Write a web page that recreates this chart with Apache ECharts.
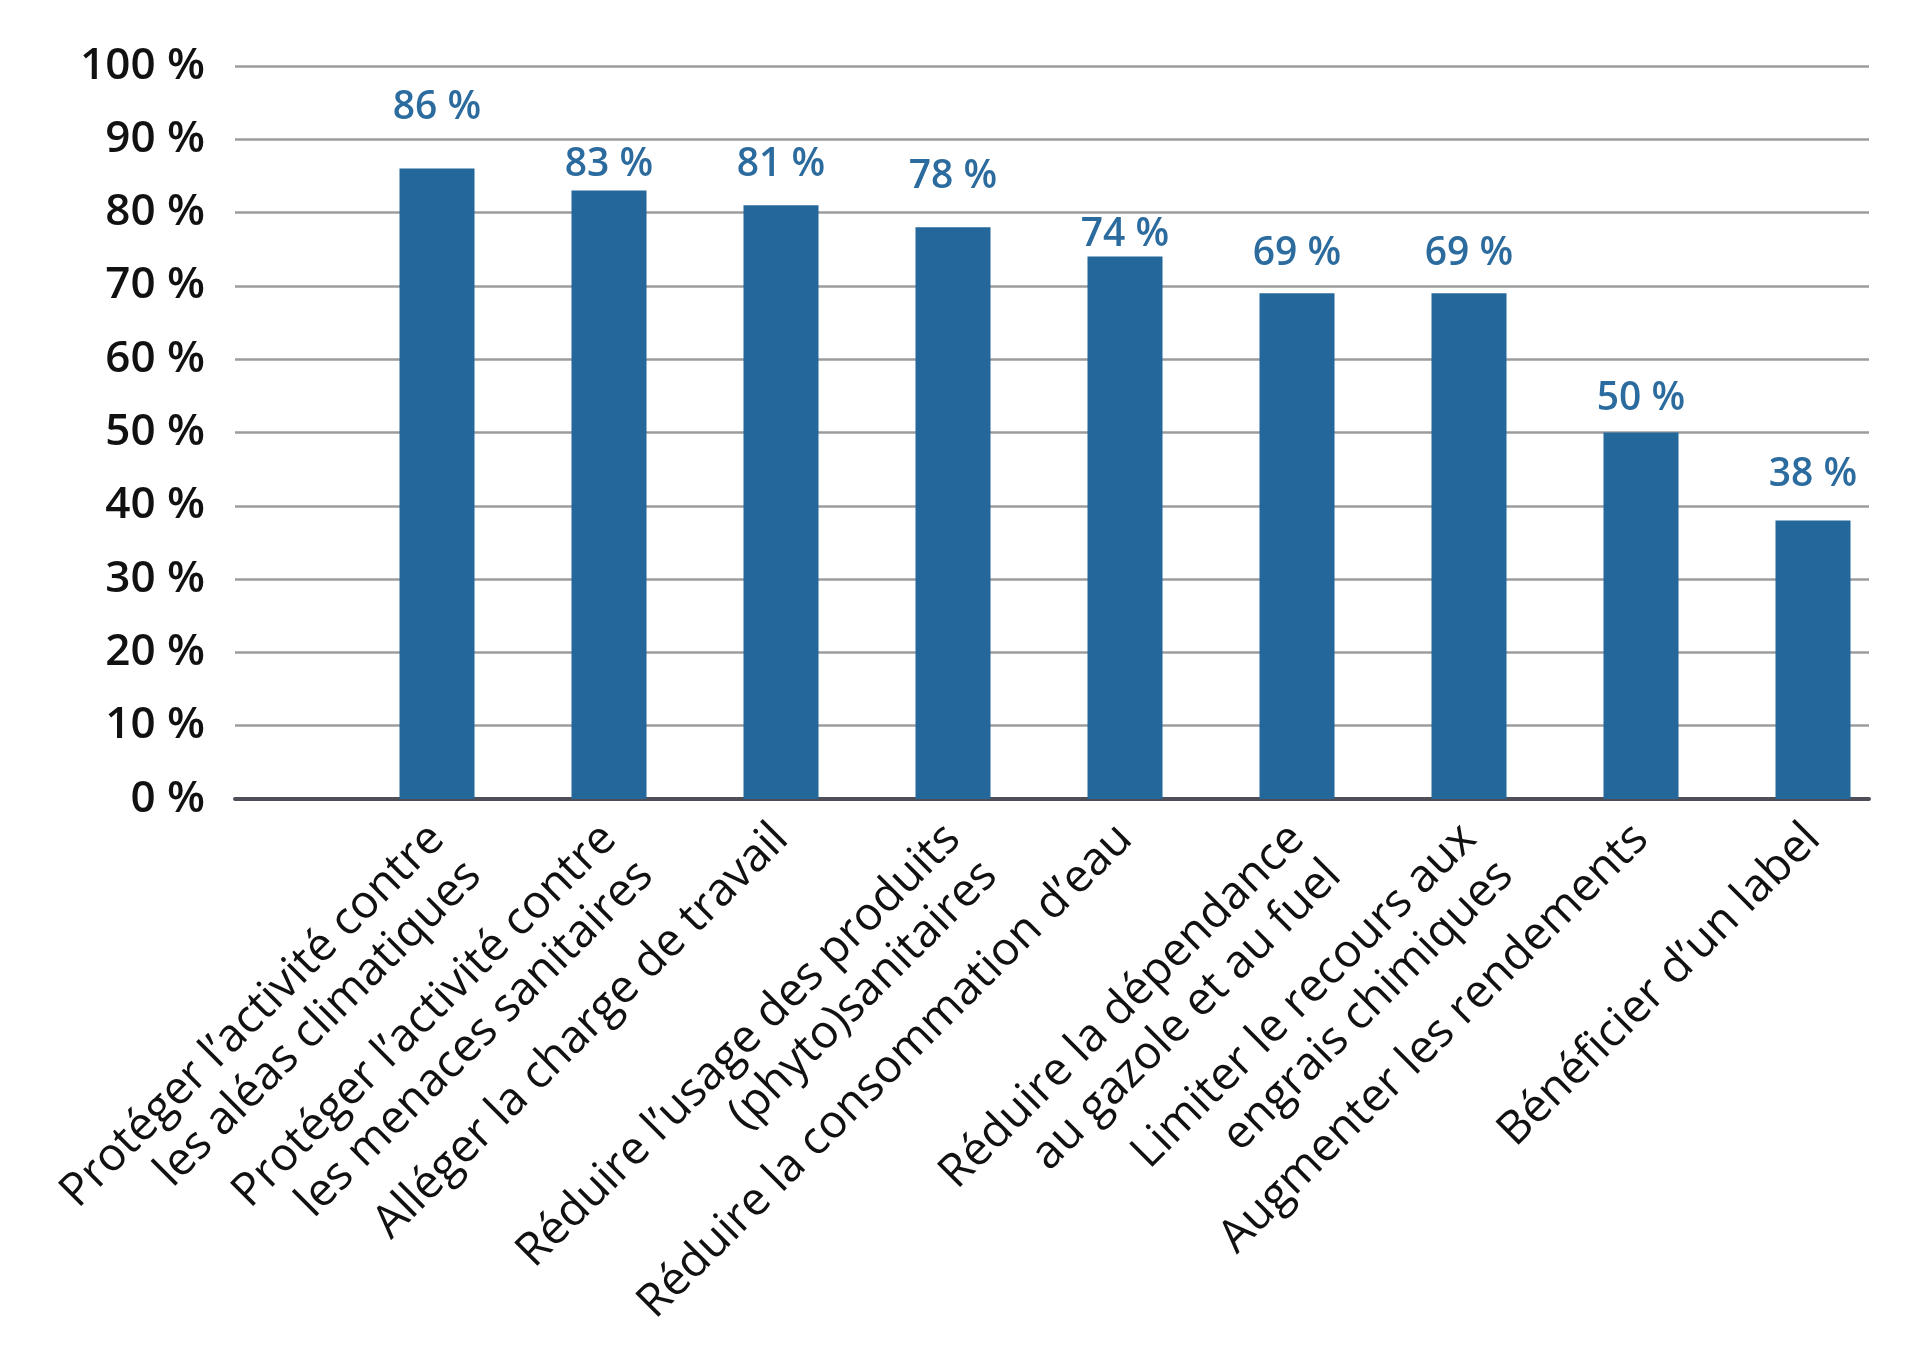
<!DOCTYPE html>
<html>
<head>
<meta charset="utf-8">
<script src="https://cdn.jsdelivr.net/npm/echarts@6/dist/echarts.min.js"></script>
<style>
  html, body { margin: 0; padding: 0; background: #fff; }
  #chart { width: 1912px; height: 1348px; }
</style>
</head>
<body>
<div id="chart"></div>
<script>
// catégories (axe horizontal)
const categories = [
  "Protéger l\u2019activité contre\nles aléas climatiques",
  "Protéger l\u2019activité contre\nles menaces sanitaires",
  "Alléger la charge de travail",
  "Réduire l\u2019usage des produits\n(phyto)sanitaires",
  "Réduire la consommation d\u2019eau",
  "Réduire la dépendance\nau gazole et au fuel",
  "Limiter le recours aux\nengrais chimiques",
  "Augmenter les rendements",
  "Bénéficier d\u2019un label"
];
// parts en %
const values = [86, 83, 81, 78, 74, 69, 69, 50, 38];
// graduations de l'axe vertical
const yTicks = [0, 10, 20, 30, 40, 50, 60, 70, 80, 90, 100];
// écart étiquette / haut de barre (px), comme sur l'original
const labelRaise = [41, 6, 20, 30, 2, 19, 19, 14, 26];

const barColor = "#23679b";
const labelColor = "#2c6b9e";
const font = "'Open Sans', 'Noto Sans', sans-serif";

const chart = echarts.init(document.getElementById("chart"));

const option = {
  backgroundColor: "#fff",
  animation: false,
  grid: [
    // grille de fond : graduations + axe du zéro
    { left: 235, right: 43, top: 66, bottom: 549 },
    // grille des barres
    { left: 351, right: 13, top: 66, bottom: 549 }
  ],
  xAxis: [
    {
      type: "value",
      gridIndex: 0,
      min: 0,
      max: 1,
      axisLine: { show: true, lineStyle: { color: "#4e4e58", width: 4 } },
      axisTick: { show: false },
      axisLabel: { show: false },
      splitLine: { show: false }
    },
    {
      type: "category",
      gridIndex: 1,
      data: categories,
      axisLine: { show: false },
      axisTick: { show: false },
      axisLabel: {
        interval: 0,
        rotate: 45,
        margin: -4,
        align: "right",
        verticalAlign: "top",
        padding: [0, 26, 0, 0],
        fontFamily: font,
        fontSize: 46,
        lineHeight: 52,
        color: "#111"
      }
    }
  ],
  yAxis: [
    {
      type: "value",
      gridIndex: 0,
      min: yTicks[0],
      max: yTicks[yTicks.length - 1],
      interval: yTicks[1] - yTicks[0],
      axisLine: { show: false },
      axisTick: { show: false },
      axisLabel: {
        margin: 30,
        formatter: "{value} %",
        fontFamily: font,
        fontSize: 44,
        fontWeight: 600,
        color: "#111",
        padding: [0, 0, 18, 0]
      },
      splitLine: { lineStyle: { color: "#9c9c9f", width: 2.5 } }
    },
    {
      type: "value",
      gridIndex: 1,
      min: yTicks[0],
      max: yTicks[yTicks.length - 1],
      show: false
    }
  ],
  series: [
    {
      type: "bar",
      xAxisIndex: 1,
      yAxisIndex: 1,
      barWidth: 75,
      itemStyle: { color: barColor },
      data: values.map((v, i) => ({
        value: v,
        label: { distance: labelRaise[i] }
      })),
      label: {
        show: true,
        position: "top",
        formatter: "{c} %",
        fontFamily: font,
        fontSize: 39,
        fontWeight: 600,
        lineHeight: 40,
        color: labelColor
      }
    }
  ]
};

chart.setOption(option);
</script>
</body>
</html>
